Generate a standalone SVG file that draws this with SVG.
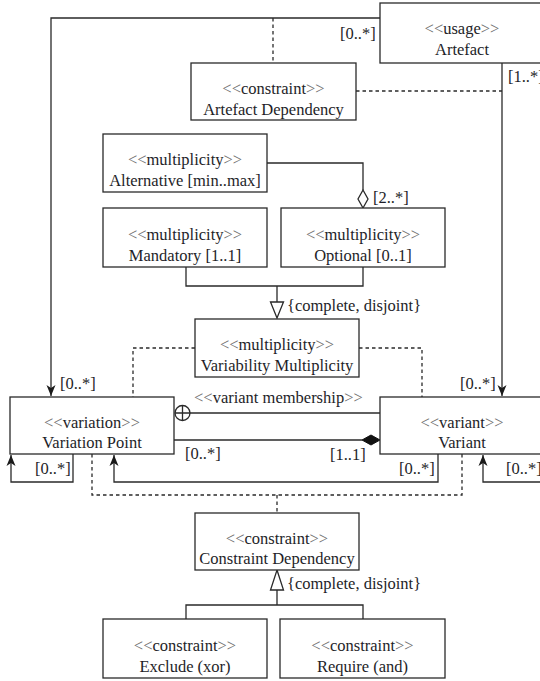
<svg xmlns="http://www.w3.org/2000/svg" width="540" height="681" viewBox="0 0 540 681">
<defs>
<marker id="arr" viewBox="0 0 12 10" refX="11" refY="5" markerWidth="12" markerHeight="10" markerUnits="userSpaceOnUse" orient="auto">
<path d="M0,0.5 L11,5 L0,9.5 L3,5 z" fill="#1a1a1a" stroke="none"/>
</marker>
</defs>
<rect width="540" height="681" fill="#fff"/>
<g id="connectors" fill="none" stroke="#2a2a2a" stroke-width="1.3">
<path d="M380,18 H51 V396" marker-end="url(#arr)"/>
<path d="M502,63 V396" marker-end="url(#arr)"/>
<path d="M267,163 H363 V190"/>
<path d="M363,190 L368,199 L363,208 L358,199 z" fill="#fff"/>
<path d="M186,267 V286 H363 V267 M277,286 V302"/>
<path d="M270.5,302 H283.5 L277,318 z" fill="#fff"/>
<path d="M190,413 H380"/>
<circle cx="182.5" cy="413" r="7.5" fill="#fff"/>
<path d="M175,413 H190 M182.5,405.5 V420.5"/>
<path d="M174,440 H362"/>
<path d="M362,440 L371,435 L380,440 L371,445 z" fill="#111" stroke="#111" stroke-width="1"/>
<path d="M73,454 V482 H11 V455" marker-end="url(#arr)"/>
<path d="M438,454 V482 H114 V455" marker-end="url(#arr)"/>
<path d="M545,482 H483 V455" marker-end="url(#arr)"/>
<path d="M277,590 V605 M186,619 V605 H363 V619"/>
<path d="M277,570 L283.5,590 H270.5 z" fill="#fff"/>
<g stroke-dasharray="3.5 3">
<path d="M273,18 V63"/>
<path d="M356,91 H502"/>
<path d="M195,348 H133 V397"/>
<path d="M359,348 H422 V397"/>
<path d="M92,454 V495 H462 V454"/>
<path d="M277,495 V513"/>
</g>
</g>
<g id="labels" fill="#1e1e28">
<text x="340" y="39" font-family="Liberation Serif" font-size="16.5">[0..*]</text>
<text x="508" y="82" font-family="Liberation Serif" font-size="16.5">[1..*]</text>
<text x="373" y="203" font-family="Liberation Serif" font-size="16.5">[2..*]</text>
<text x="287" y="311" font-family="Liberation Serif" font-size="16.5">{complete, disjoint}</text>
<text x="60" y="389" font-family="Liberation Serif" font-size="16.5">[0..*]</text>
<text x="460" y="389" font-family="Liberation Serif" font-size="16.5">[0..*]</text>
<text x="194" y="403" font-family="Liberation Serif" font-size="16.5"><tspan fill="#707070">&lt;&lt;</tspan>variant membership<tspan fill="#707070">&gt;&gt;</tspan></text>
<text x="185" y="459" font-family="Liberation Serif" font-size="16.5">[0..*]</text>
<text x="330" y="460" font-family="Liberation Serif" font-size="16.5">[1..1]</text>
<text x="35" y="474" font-family="Liberation Serif" font-size="16.5">[0..*]</text>
<text x="399" y="474" font-family="Liberation Serif" font-size="16.5">[0..*]</text>
<text x="506" y="474" font-family="Liberation Serif" font-size="16.5">[0..*]</text>
<text x="287" y="589" font-family="Liberation Serif" font-size="16.5">{complete, disjoint}</text>
</g>
<g id="artefact" text-anchor="middle" fill="#1e1e28">
<rect x="380" y="3" width="164" height="60" fill="#fff" stroke="#2a2a2a" stroke-width="1.3"/>
<text x="462" y="34" font-family="Liberation Serif" font-size="16.5"><tspan fill="#707070">&lt;&lt;</tspan>usage<tspan fill="#707070">&gt;&gt;</tspan></text>
<text x="462" y="55" font-family="Liberation Serif" font-size="16.5">Artefact</text>
</g>
<g id="artefact-dependency" text-anchor="middle" fill="#1e1e28">
<rect x="191" y="63" width="165" height="57" fill="#fff" stroke="#2a2a2a" stroke-width="1.3"/>
<text x="273.5" y="94" font-family="Liberation Serif" font-size="16.5"><tspan fill="#707070">&lt;&lt;</tspan>constraint<tspan fill="#707070">&gt;&gt;</tspan></text>
<text x="273.5" y="115" font-family="Liberation Serif" font-size="16.5">Artefact Dependency</text>
</g>
<g id="alternative" text-anchor="middle" fill="#1e1e28">
<rect x="103" y="134" width="164" height="58" fill="#fff" stroke="#2a2a2a" stroke-width="1.3"/>
<text x="185" y="165" font-family="Liberation Serif" font-size="16.5"><tspan fill="#707070">&lt;&lt;</tspan>multiplicity<tspan fill="#707070">&gt;&gt;</tspan></text>
<text x="185" y="186" font-family="Liberation Serif" font-size="16.5">Alternative [min..max]</text>
</g>
<g id="mandatory" text-anchor="middle" fill="#1e1e28">
<rect x="103" y="208" width="164" height="59" fill="#fff" stroke="#2a2a2a" stroke-width="1.3"/>
<text x="185" y="240" font-family="Liberation Serif" font-size="16.5"><tspan fill="#707070">&lt;&lt;</tspan>multiplicity<tspan fill="#707070">&gt;&gt;</tspan></text>
<text x="185" y="261" font-family="Liberation Serif" font-size="16.5">Mandatory [1..1]</text>
</g>
<g id="optional" text-anchor="middle" fill="#1e1e28">
<rect x="281" y="208" width="164" height="59" fill="#fff" stroke="#2a2a2a" stroke-width="1.3"/>
<text x="363" y="240" font-family="Liberation Serif" font-size="16.5"><tspan fill="#707070">&lt;&lt;</tspan>multiplicity<tspan fill="#707070">&gt;&gt;</tspan></text>
<text x="363" y="261" font-family="Liberation Serif" font-size="16.5">Optional [0..1]</text>
</g>
<g id="variability-multiplicity" text-anchor="middle" fill="#1e1e28">
<rect x="195" y="319" width="164" height="58" fill="#fff" stroke="#2a2a2a" stroke-width="1.3"/>
<text x="277" y="350" font-family="Liberation Serif" font-size="16.5"><tspan fill="#707070">&lt;&lt;</tspan>multiplicity<tspan fill="#707070">&gt;&gt;</tspan></text>
<text x="277" y="371" font-family="Liberation Serif" font-size="16.5">Variability Multiplicity</text>
</g>
<g id="variation-point" text-anchor="middle" fill="#1e1e28">
<rect x="10" y="397" width="164" height="57" fill="#fff" stroke="#2a2a2a" stroke-width="1.3"/>
<text x="92" y="428" font-family="Liberation Serif" font-size="16.5"><tspan fill="#707070">&lt;&lt;</tspan>variation<tspan fill="#707070">&gt;&gt;</tspan></text>
<text x="92" y="448" font-family="Liberation Serif" font-size="16.5">Variation Point</text>
</g>
<g id="variant" text-anchor="middle" fill="#1e1e28">
<rect x="380" y="397" width="164" height="57" fill="#fff" stroke="#2a2a2a" stroke-width="1.3"/>
<text x="462" y="428" font-family="Liberation Serif" font-size="16.5"><tspan fill="#707070">&lt;&lt;</tspan>variant<tspan fill="#707070">&gt;&gt;</tspan></text>
<text x="462" y="448" font-family="Liberation Serif" font-size="16.5">Variant</text>
</g>
<g id="constraint-dependency" text-anchor="middle" fill="#1e1e28">
<rect x="195" y="513" width="164" height="57" fill="#fff" stroke="#2a2a2a" stroke-width="1.3"/>
<text x="277" y="544" font-family="Liberation Serif" font-size="16.5"><tspan fill="#707070">&lt;&lt;</tspan>constraint<tspan fill="#707070">&gt;&gt;</tspan></text>
<text x="277" y="564" font-family="Liberation Serif" font-size="16.5">Constraint Dependency</text>
</g>
<g id="exclude" text-anchor="middle" fill="#1e1e28">
<rect x="103" y="619" width="164" height="59" fill="#fff" stroke="#2a2a2a" stroke-width="1.3"/>
<text x="185" y="651" font-family="Liberation Serif" font-size="16.5"><tspan fill="#707070">&lt;&lt;</tspan>constraint<tspan fill="#707070">&gt;&gt;</tspan></text>
<text x="185" y="672" font-family="Liberation Serif" font-size="16.5">Exclude (xor)</text>
</g>
<g id="require" text-anchor="middle" fill="#1e1e28">
<rect x="280" y="619" width="165" height="59" fill="#fff" stroke="#2a2a2a" stroke-width="1.3"/>
<text x="362.5" y="651" font-family="Liberation Serif" font-size="16.5"><tspan fill="#707070">&lt;&lt;</tspan>constraint<tspan fill="#707070">&gt;&gt;</tspan></text>
<text x="362.5" y="672" font-family="Liberation Serif" font-size="16.5">Require (and)</text>
</g>
</svg>
